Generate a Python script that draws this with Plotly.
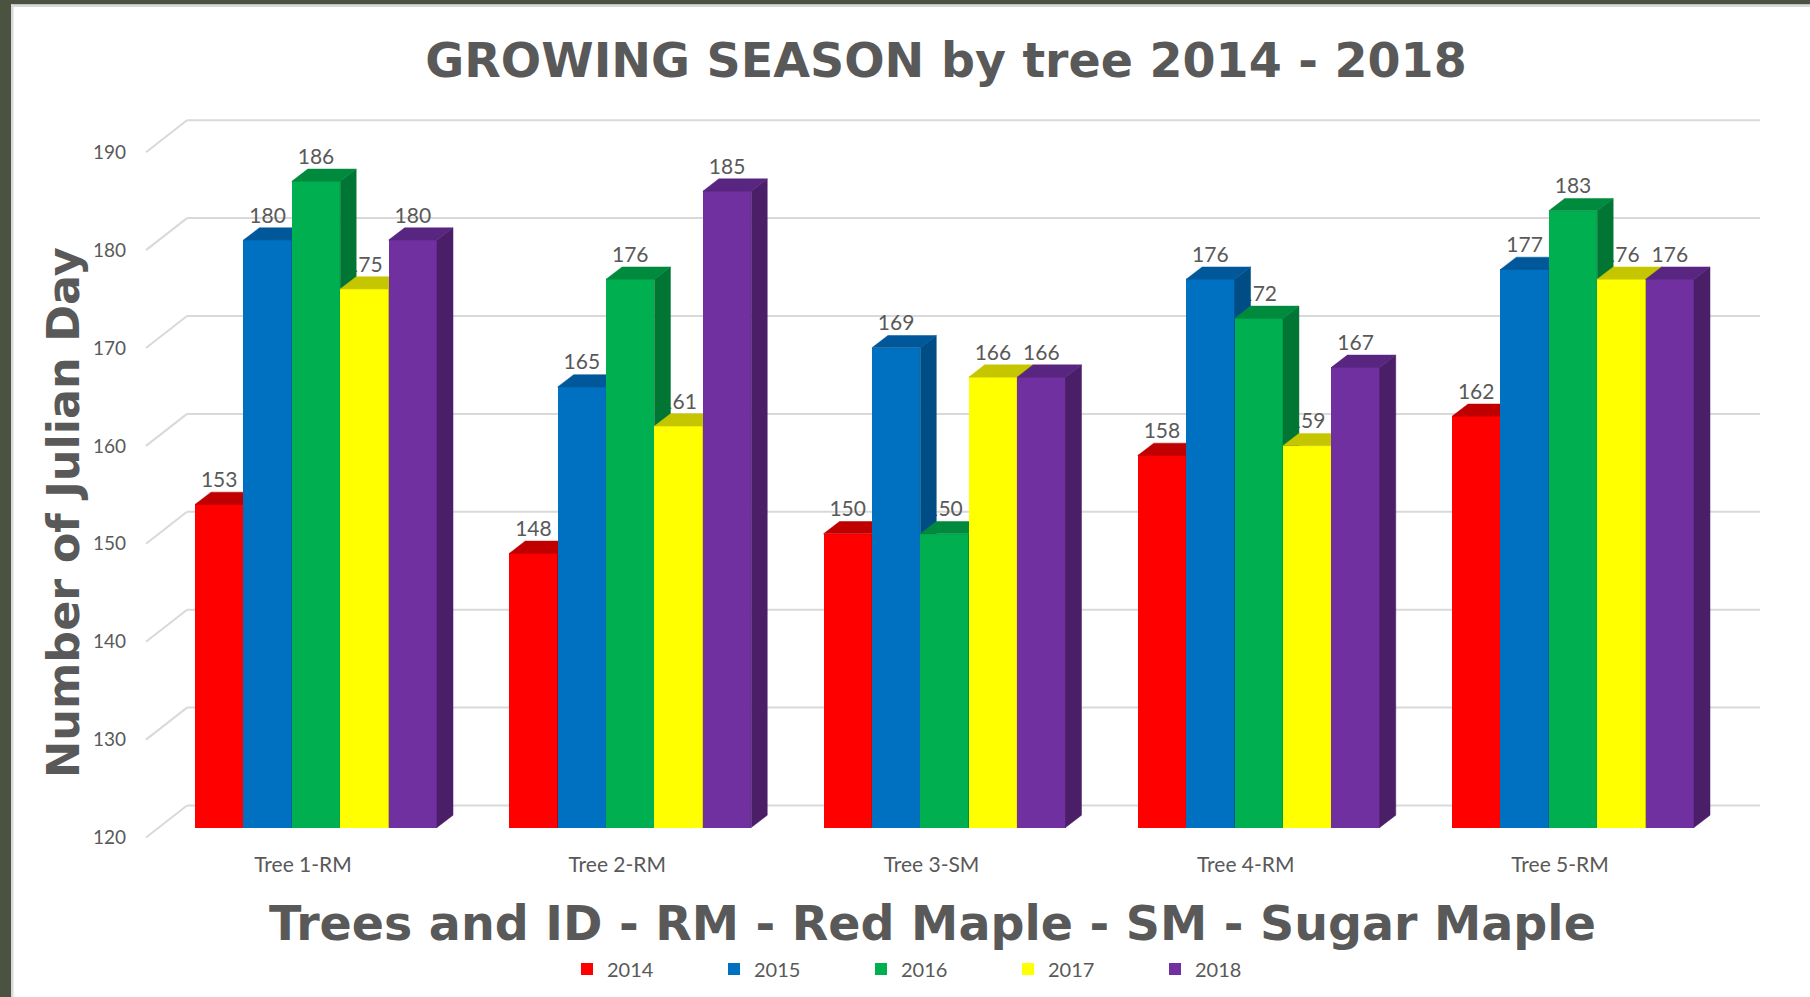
import plotly.graph_objects as go

# ---------------- data ----------------
categories = ["Tree 1-RM", "Tree 2-RM", "Tree 3-SM", "Tree 4-RM", "Tree 5-RM"]
years = ["2014", "2015", "2016", "2017", "2018"]
v2014 = [153, 148, 150, 158, 162]
v2015 = [180, 165, 169, 176, 177]
v2016 = [186, 176, 150, 172, 183]
v2017 = [175, 161, 166, 159, 176]
v2018 = [180, 185, 166, 167, 176]
y_ticks = [120, 130, 140, 150, 160, 170, 180, 190]

series = [v2014, v2015, v2016, v2017, v2018]
front_colors = ["#FF0000", "#0070C0", "#00B050", "#FFFF00", "#7030A0"]
top_colors = ["#C00000", "#00589A", "#008A3E", "#C6C600", "#582680"]
side_colors = ["#A00000", "#004C84", "#007534", "#ADAD00", "#4A1F68"]

# ---------------- geometry (pixels) ----------------
W, H = 1810, 997
ML, MR, MT, MB = 143, 48, 112, 156
PW, PH = W - ML - MR, H - MT - MB
X0_PX, PX_X = 316.0, 314.25      # centre of first group / px per category
BASE_PX, PX_Y = 827.5, 9.79      # pixel of base value / px per unit
BASE = 120
xmin = (ML - X0_PX) / PX_X
xmax = xmin + PW / PX_X
ymin = BASE - (H - MB - BASE_PX) / PX_Y
ymax = ymin + PH / PX_Y
BW = 48.4 / PX_X                 # bar width (data units)
DEP_X, DEP_Y = 16.0 / PX_X, 12.3 / PX_Y   # bar depth
WALL_X0 = (187 - X0_PX) / PX_X
WALL_X1 = (1760 - X0_PX) / PX_X
FLOOR_X = (146 - X0_PX) / PX_X
WALL_DY = 22.0 / PX_Y
FLOOR_DY = 10.0 / PX_Y

GREY = "#595959"
FONT = "Lato, 'Noto Sans', sans-serif"
BIGFONT = "'Comic Sans MS', 'DejaVu Sans', sans-serif"


def xp(px):
    return (px - ML) / PW


def yp(py):
    return (H - MB - py) / PH


fig = go.Figure()

label_x, label_y, label_t = [], [], []
for j, vals in enumerate(series):
    xa = "x" if j == 0 else f"x{j + 1}"
    ya = "y" if j == 0 else f"y{j + 1}"
    xs = [i + (j - 2) * BW for i in range(len(categories))]
    fig.add_trace(go.Bar(
        x=xs, y=[v - BASE for v in vals], base=BASE, width=BW,
        name=years[j], marker=dict(color=front_colors[j], line=dict(width=0)),
        xaxis=xa, yaxis=ya, customdata=vals,
        hovertemplate="%{customdata}<extra>" + years[j] + "</extra>",
    ))
    sx, sy, tx, ty = [], [], [], []
    for xc, v in zip(xs, vals):
        xl, xr = xc - BW / 2, xc + BW / 2
        sx += [xr, xr, xr + DEP_X, xr + DEP_X, xr, None]
        sy += [BASE, v, v + DEP_Y, BASE + DEP_Y, BASE, None]
        tx += [xl, xr, xr + DEP_X, xl + DEP_X, xl, None]
        ty += [v, v, v + DEP_Y, v + DEP_Y, v, None]
        label_x.append(xc)
        label_y.append(v + DEP_Y)
        label_t.append(str(v))
    fig.add_trace(go.Scatter(x=sx, y=sy, fill="toself", fillcolor=side_colors[j],
                             mode="lines", line=dict(width=0.5, color=side_colors[j]),
                             xaxis=xa, yaxis=ya, showlegend=False, hoverinfo="skip"))
    fig.add_trace(go.Scatter(x=tx, y=ty, fill="toself", fillcolor=top_colors[j],
                             mode="lines", line=dict(width=0.5, color=top_colors[j]),
                             xaxis=xa, yaxis=ya, showlegend=False, hoverinfo="skip"))
    if j == 0:
        label_trace_index = len(fig.data)
        fig.add_trace(go.Scatter(x=[], y=[], mode="text", showlegend=False,
                                 hoverinfo="skip", xaxis="x", yaxis="y"))

fig.data[label_trace_index].update(
    x=label_x, y=label_y, text=label_t, textposition="top center",
    textfont=dict(family=FONT, size=21, color=GREY))

# ---------------- back wall gridlines ----------------
shapes = []
for t in y_ticks:
    shapes.append(dict(type="line", xref="x", yref="y", x0=WALL_X0, x1=WALL_X1,
                       y0=t + WALL_DY, y1=t + WALL_DY, layer="below",
                       line=dict(color="#D9D9D9", width=2)))
    shapes.append(dict(type="line", xref="x", yref="y", x0=FLOOR_X, x1=WALL_X0,
                       y0=t - FLOOR_DY, y1=t + WALL_DY, layer="below",
                       line=dict(color="#D9D9D9", width=2)))

# frame
shapes += [
    dict(type="rect", xref="paper", yref="paper", x0=xp(0), x1=xp(11), y0=yp(H), y1=yp(0),
         fillcolor="#4B5340", line=dict(width=0), layer="above"),
    dict(type="rect", xref="paper", yref="paper", x0=xp(0), x1=xp(W), y0=yp(4.5), y1=yp(0),
         fillcolor="#4B5340", line=dict(width=0), layer="above"),
    dict(type="rect", xref="paper", yref="paper", x0=xp(11), x1=xp(13.5), y0=yp(H), y1=yp(4.5),
         fillcolor="#D9D9D9", line=dict(width=0), layer="above"),
    dict(type="rect", xref="paper", yref="paper", x0=xp(11), x1=xp(W), y0=yp(7), y1=yp(4.5),
         fillcolor="#D9D9D9", line=dict(width=0), layer="above"),
]

layout = dict(
    width=W, height=H,
    margin=dict(l=ML, r=MR, t=MT, b=MB, pad=0, autoexpand=False),
    paper_bgcolor="white", plot_bgcolor="white",
    barmode="overlay", bargap=0,
    showlegend=True,
    title=dict(text="GROWING SEASON by tree 2014 - 2018", x=946 / W, xanchor="center",
               y=1 - 60 / H, yanchor="middle", yref="container",
               font=dict(family=BIGFONT, size=47.5, color=GREY, weight="bold")),
    xaxis=dict(range=[xmin, xmax], tickvals=list(range(len(categories))), ticktext=categories,
               showgrid=False, zeroline=False, showline=False, ticks="",
               tickfont=dict(family=FONT, size=21, color=GREY),
               ticklabelshift=-13, ticklabelstandoff=9, fixedrange=True),
    yaxis=dict(range=[ymin, ymax], tickvals=y_ticks, showgrid=False, zeroline=False,
               showline=False, ticks="", tickfont=dict(family=FONT, size=19, color=GREY),
               ticklabelshift=10, ticklabelstandoff=16, fixedrange=True),
    legend=dict(orientation="h", x=xp(567), xanchor="left", y=yp(969), yanchor="middle",
                entrywidth=102, entrywidthmode="pixels",
                font=dict(family=FONT, size=20, color=GREY), traceorder="normal"),
    shapes=shapes,
    annotations=[
        dict(text="Number of Julian Day", xref="paper", yref="paper", x=xp(63), y=yp(513),
             textangle=-90, showarrow=False, xanchor="center", yanchor="middle",
             font=dict(family=BIGFONT, size=44.5, color=GREY, weight="bold")),
        dict(text="Trees and ID - RM - Red Maple - SM - Sugar Maple", xref="paper",
             yref="paper", x=xp(932), y=yp(923), showarrow=False, xanchor="center",
             yanchor="middle", font=dict(family=BIGFONT, size=47.5, color=GREY, weight="bold")),
    ],
)
for k in range(2, 6):
    layout[f"xaxis{k}"] = dict(overlaying="x", range=[xmin, xmax], visible=False, fixedrange=True)
    layout[f"yaxis{k}"] = dict(overlaying="y", range=[ymin, ymax], visible=False, fixedrange=True)

fig.update_layout(**layout)
fig.write_html("out.html", config={"displayModeBar": False},
               post_script="document.body.style.margin='0';")
